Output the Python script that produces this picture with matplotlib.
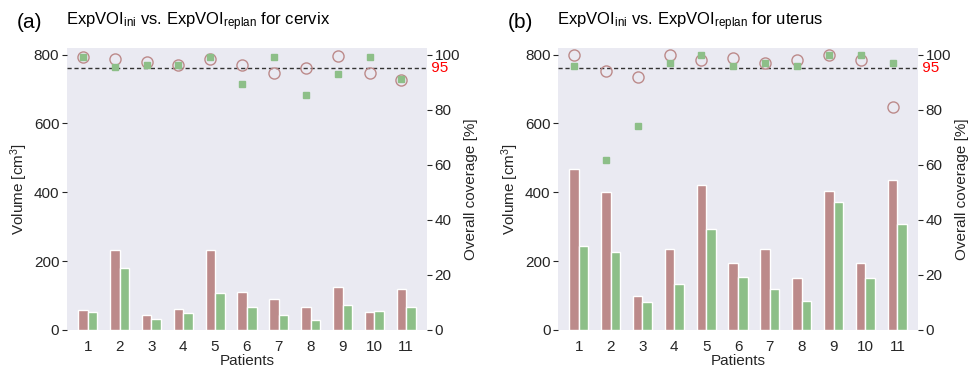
import numpy as np
import matplotlib
matplotlib.use("Agg")
import matplotlib.pyplot as plt
import seaborn as sns

sns.set_style("dark")
plt.rcParams['font.family'] = ['Liberation Sans', 'DejaVu Sans']
plt.rcParams['mathtext.fontset'] = 'custom'
plt.rcParams['mathtext.rm'] = 'Liberation Sans'
plt.rcParams['mathtext.it'] = 'Liberation Sans:italic'

patients = np.arange(1, 12)

# volumes [cm3]
cervix_vol_ini = [59, 232, 43, 61, 232, 111, 89, 68, 125, 52, 118]
cervix_vol_replan = [52, 181, 32, 50, 107, 68, 43, 30, 72, 54, 68]
uterus_vol_ini = [467, 402, 98, 236, 420, 196, 234, 151, 404, 196, 437]
uterus_vol_replan = [245, 227, 81, 133, 293, 155, 118, 83, 372, 151, 307]

# overall coverage [%]
cervix_cov_ini = [99.3, 98.3, 97.3, 96.4, 98.3, 96.4, 93.2, 95.2, 99.4, 93.2, 90.6]
cervix_cov_replan = [99.3, 95.4, 96.4, 96.1, 99.0, 89.4, 99.3, 85.5, 93.0, 99.3, 91.1]
uterus_cov_ini = [100, 94.0, 91.9, 100, 97.9, 98.9, 97.0, 97.9, 100, 97.9, 81.0]
uterus_cov_replan = [95.8, 61.8, 73.9, 97.0, 100, 96.0, 97.0, 95.8, 100, 100, 97.0]

c_ini = '#bc8a8a'
c_rep = '#8dbf88'
txt = '#262626'
fs = 11

fig = plt.figure(figsize=(9.69, 3.68), dpi=100)

panels = [
    ('(a)', 'cervix', cervix_vol_ini, cervix_vol_replan, cervix_cov_ini, cervix_cov_replan, 0.0691),
    ('(b)', 'uterus', uterus_vol_ini, uterus_vol_replan, uterus_cov_ini, uterus_cov_replan, 0.5759),
]

w = 0.3
for tag, organ, v_ini, v_rep, cv_ini, cv_rep, left in panels:
    ax = fig.add_axes([left, 0.1033, 0.3715, 0.767])
    ax.bar(patients - w / 2, v_ini, w, color=c_ini, edgecolor='white', linewidth=1, zorder=2)
    ax.bar(patients + w / 2, v_rep, w, color=c_rep, edgecolor='white', linewidth=1, zorder=2)
    ax.set_xlim(0.35, 11.65)
    ax.set_ylim(0, 820)
    ax.set_yticks([0, 200, 400, 600, 800])
    ax.set_xticks(patients)
    ax.tick_params(axis='y', left=True, length=3.5, width=0.8, color=txt, labelsize=fs, labelcolor=txt, pad=2)
    ax.tick_params(axis='x', bottom=False, labelsize=fs, labelcolor=txt, pad=4)
    ax.set_xlabel('Patients', fontsize=fs, color=txt, labelpad=0)
    ax.set_ylabel('Volume [cm$^3$]', fontsize=fs, color=txt, labelpad=3)

    ax2 = ax.twinx()
    ax2.set_ylim(0, 102.5)
    ax2.set_yticks([0, 20, 40, 60, 80, 100])
    ax2.tick_params(axis='y', right=True, length=3.5, width=0.8, color=txt, labelsize=fs, labelcolor=txt, pad=2)
    ax2.plot(patients - w / 2, cv_ini, 'o', ms=8, mfc='none', mec=c_ini, mew=1.0, zorder=3)
    ax2.plot(patients - w / 2, cv_rep, 's', ms=4.8, color=c_rep, zorder=4)
    ax2.axhline(95, color='#333333', ls='--', lw=1.0, dashes=(3, 2), zorder=2)
    ax2.text(1.0, 95, ' 95', transform=ax2.get_yaxis_transform(), color='red',
             fontsize=fs, va='center', ha='left')
    ax2.set_ylabel('Overall coverage [%]', fontsize=fs, color=txt, labelpad=3)
    for a in (ax, ax2):
        for s in a.spines.values():
            s.set_visible(False)

    x0 = left * 969
    fig.text((x0 - 50) / 969, 1 - 22 / 368, tag, fontsize=15, color='black', va='center', ha='left')
    fig.text((x0 - 1) / 969, 1 - 22 / 368,
             r'ExpVOI$_{\mathrm{ini}}$ vs. ExpVOI$_{\mathrm{replan}}$ for ' + organ,
             fontsize=12, color='black', va='center', ha='left')

fig.savefig('out.png', dpi=100)
